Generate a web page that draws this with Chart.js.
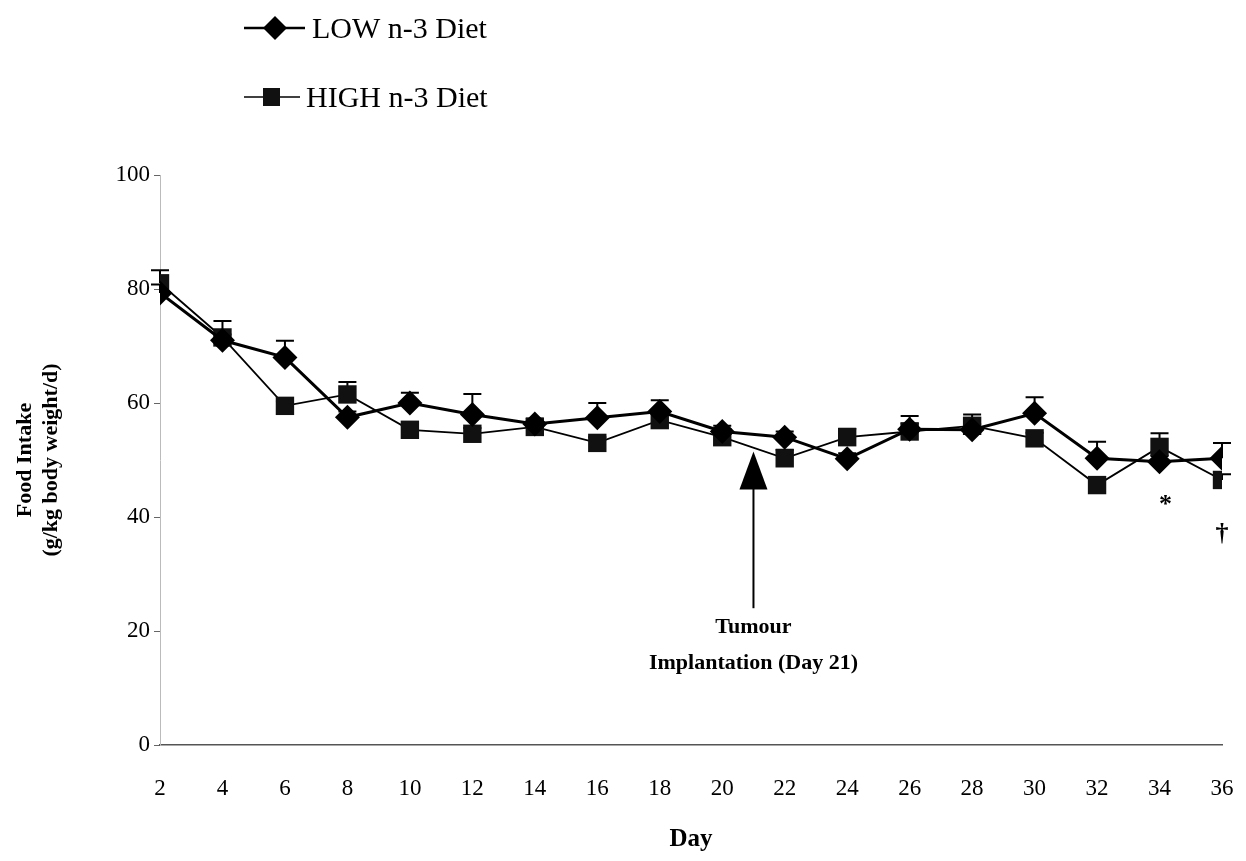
<!DOCTYPE html>
<html><head><meta charset="utf-8">
<script src="https://cdn.jsdelivr.net/npm/chart.js@4.4.1/dist/chart.umd.min.js"></script>
<style>html,body{margin:0;padding:0;background:#fff;}#wrap{width:1246px;height:861px;position:relative;}</style>
</head><body><div id="wrap"><canvas id="c" width="1246" height="861"></canvas></div>
<script>
const days = [2,4,6,8,10,12,14,16,18,20,22,24,26,28,30,32,34,36];
const lowValues  = [79.3,71.0,68.0,57.5,60.0,58.0,56.3,57.4,58.5,55.0,54.0,50.2,55.4,55.3,58.2,50.3,49.7,50.3];
const lowErrors  = [1.5,1.0,2.9,1.0,1.8,3.6,1.0,2.6,2.0,1.0,1.0,1.0,1.0,1.0,2.8,2.9,1.0,2.7];
const highValues = [81.0,71.5,59.5,61.5,55.3,54.6,55.8,53.0,57.0,54.0,50.3,54.0,55.0,56.0,53.8,45.6,52.3,46.5];
const highErrors = [2.3,2.9,0.8,2.2,0.8,1.0,1.0,1.0,1.5,1.0,1.5,1.5,2.7,2.0,1.0,1.0,2.4,1.0];
const yTicks = [0,20,40,60,80,100];
const seriesNames = ['LOW n-3 Diet','HIGH n-3 Diet'];
const arrowDay = 21, arrowFrom = 24, arrowTo = 51.5;
const noteLines = ['Tumour','Implantation (Day 21)'];
const marks = [{day:34, y:42, text:'*'},{day:36, y:37, text:'\u2020'}];

const SERIF = '"Liberation Serif","DejaVu Serif",serif';

const errorBars = {
  id:'errorBars',
  beforeDatasetsDraw(chart){
    const {ctx, scales:{x,y}} = chart;
    const sets = [[lowValues,lowErrors],[highValues,highErrors]];
    ctx.save(); ctx.strokeStyle='#000'; ctx.lineWidth=2;
    sets.forEach(([v,e])=>{
      days.forEach((d,i)=>{
        const px=x.getPixelForValue(d), p0=y.getPixelForValue(v[i]), p1=y.getPixelForValue(v[i]+e[i]);
        ctx.beginPath(); ctx.moveTo(px,p0); ctx.lineTo(px,p1);
        ctx.moveTo(px-9,p1); ctx.lineTo(px+9,p1); ctx.stroke();
      });
    });
    ctx.restore();
  }
};

const extras = {
  id:'extras',
  afterDraw(chart){
    const {ctx, scales:{x,y}} = chart;
    ctx.save();
    const ax=x.getPixelForValue(arrowDay), yb=y.getPixelForValue(arrowFrom), yt=y.getPixelForValue(arrowTo);
    ctx.strokeStyle='#000'; ctx.fillStyle='#000'; ctx.lineWidth=2;
    ctx.beginPath(); ctx.moveTo(ax,yb); ctx.lineTo(ax,yt+30); ctx.stroke();
    ctx.beginPath(); ctx.moveTo(ax,yt); ctx.lineTo(ax-14,yt+38); ctx.lineTo(ax+14,yt+38); ctx.closePath(); ctx.fill();
    ctx.font='bold 22px '+SERIF; ctx.textAlign='center'; ctx.textBaseline='middle';
    ctx.fillText(noteLines[0], ax, yb+19);
    ctx.fillText(noteLines[1], ax, yb+55);
    ctx.font='bold 26px '+SERIF;
    marks.forEach((m,i)=>ctx.fillText(m.text, x.getPixelForValue(m.day)+(i===0?6:0), y.getPixelForValue(m.y)));
    ctx.textAlign='left'; ctx.font='30px '+SERIF;
    ctx.lineWidth=2.5; ctx.beginPath(); ctx.moveTo(244,28); ctx.lineTo(305,28); ctx.stroke();
    ctx.beginPath(); ctx.moveTo(275,16); ctx.lineTo(287,28); ctx.lineTo(275,40); ctx.lineTo(263,28); ctx.closePath(); ctx.fill();
    ctx.fillText(seriesNames[0], 312, 30);
    ctx.lineWidth=1.5; ctx.beginPath(); ctx.moveTo(244,97); ctx.lineTo(300,97); ctx.stroke();
    ctx.fillStyle='#111'; ctx.fillRect(263,88,17,18); ctx.fillStyle='#000';
    ctx.fillText(seriesNames[1], 306, 99);
    ctx.restore();
  }
};

new Chart(document.getElementById('c'), {
  type:'line',
  data:{
    datasets:[
      {label:seriesNames[0], data:days.map((d,i)=>({x:d,y:lowValues[i]})), borderColor:'#000', backgroundColor:'#000',
       borderWidth:3, pointStyle:'rectRot', pointRadius:12.5, pointBorderWidth:0, tension:0},
      {label:seriesNames[1], data:days.map((d,i)=>({x:d,y:highValues[i]})), borderColor:'#000', backgroundColor:'#111',
       borderWidth:1.8, pointStyle:'rect', pointRadius:13, pointBorderWidth:0, tension:0}
    ]
  },
  options:{
    responsive:false, animation:false, devicePixelRatio:1,
    layout:{padding:{top:175,right:24,left:0,bottom:0}},
    plugins:{legend:{display:false}, tooltip:{enabled:false}},
    scales:{
      x:{type:'linear', min:2, max:36,
         afterBuildTicks(s){ s.ticks = days.map(v=>({value:v})); },
         afterFit(s){ s.height=116; s.paddingRight=0; s.paddingLeft=0; },
         border:{display:true, color:'#555', width:1.5},
         grid:{display:true, drawOnChartArea:false, drawTicks:true, tickLength:26, color:'rgba(0,0,0,0)'},
         ticks:{padding:4, color:'#000', font:{family:SERIF, size:23}, maxRotation:0, autoSkip:false},
         title:{display:true, text:'Day', color:'#000', font:{family:SERIF, size:25, weight:'bold'}, padding:{top:0,bottom:6}}
      },
      y:{min:0, max:100,
         afterBuildTicks(s){ s.ticks = yTicks.map(v=>({value:v})); },
         afterFit(s){ s.width=160; },
         border:{display:true, color:'#bbb', width:1, dash:[2,4]},
         grid:{drawOnChartArea:false, drawTicks:true, tickLength:6, color:'#666'},
         ticks:{padding:4, color:'#000', font:{family:SERIF, size:23}},
         title:{display:true, text:['Food Intake','(g/kg body weight/d)'], color:'#000', font:{family:SERIF, size:22, weight:'bold'}, padding:{top:12,bottom:0}}
      }
    }
  },
  plugins:[errorBars, extras]
});
</script></body></html>
